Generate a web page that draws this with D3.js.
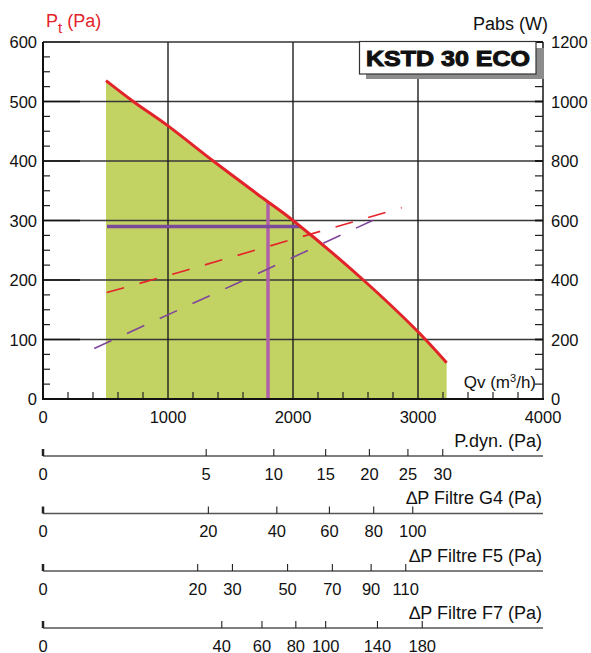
<!DOCTYPE html>
<html><head><meta charset="utf-8">
<script src="https://cdn.jsdelivr.net/npm/d3@7"></script>
<style>
html,body{margin:0;padding:0;background:#fff;}
svg{display:block;font-family:"Liberation Sans",Arial,Helvetica,sans-serif;}
</style></head>
<body>
<svg id="chart" width="591" height="653"></svg>
<script>
// ---- data ----
const qTicks = [0, 1000, 2000, 3000, 4000];
const ptTicks = [0, 100, 200, 300, 400, 500, 600];
const wTicks = [0, 200, 400, 600, 800, 1000, 1200];
// fan curve (Qv m3/h, Pt Pa)
const curveQ  = [504, 722, 1000, 1362, 1763, 2000, 2563, 3000, 3229];
const curvePa = [535, 500, 459, 400, 337, 300, 200, 113, 61];
// absorbed power lines (Qv m3/h, W)
const pabsRedQ = [510, 1141, 2000, 2870];
const pabsRedW = [358, 432, 537, 643];
const pabsPurpleQ = [410, 1536, 2656];
const pabsPurpleW = [170, 386, 604];
// operating point
const opQ = [1800], opPa = [290], opQEnd = [2060], opPaTop = [332];
// auxiliary scales: tick values and airflow at the last tick
const pdynTicks = [0, 5, 10, 15, 20, 25, 30];          const pdynMaxQ = 3198;
const g4Ticks   = [0, 20, 40, 60, 80, 100];            const g4MaxQ   = 2958;
const f5Ticks   = [0, 20, 30, 50, 70, 90, 110];        const f5MaxQ   = 2902;
const f7Ticks   = [0, 40, 60, 80, 100, 140, 180];      const f7MaxQ   = 3034;
const auxTitles = ["P.dyn. (Pa)", "\u2206P Filtre G4 (Pa)", "\u2206P Filtre F5 (Pa)", "\u2206P Filtre F7 (Pa)"];

// ---- layout ----
const svg = d3.select("#chart");
const L = 43, R = 543, T = 42, B = 399;
const x = d3.scaleLinear().domain([0, 4000]).range([L, R]);
const y = d3.scaleLinear().domain([0, 600]).range([B, T]);
const yR = d3.scaleLinear().domain([0, 1200]).range([B, T]);
const smooth = d3.curveCatmullRom.alpha(0.5);

// green area under the curve
const pts = curveQ.map((q, i) => [q, curvePa[i]]);
svg.append("path").datum(pts)
  .attr("fill", "#c2d263")
  .attr("d", d3.area().x(d => x(d[0])).y0(y(0)).y1(d => y(d[1])).curve(smooth));

// grid
svg.append("g").selectAll("line").data(ptTicks.slice(1, -1)).join("line")
  .attr("x1", L).attr("x2", R).attr("y1", d => y(d)).attr("y2", d => y(d))
  .attr("stroke", "#363636").attr("stroke-width", 1.6);
svg.append("g").selectAll("line").data(qTicks.slice(1, -1)).join("line")
  .attr("x1", d => x(d)).attr("x2", d => x(d)).attr("y1", T).attr("y2", B)
  .attr("stroke", "#1e1e1e").attr("stroke-width", 1.4);
// slightly darker major tick stubs on the left
svg.append("g").selectAll("line").data(ptTicks).join("line")
  .attr("x1", L).attr("x2", L + 37).attr("y1", d => y(d)).attr("y2", d => y(d))
  .attr("stroke", "#111").attr("stroke-width", 1.7);

// frame
svg.append("line").attr("x1", L).attr("x2", R).attr("y1", T).attr("y2", T).attr("stroke", "#333").attr("stroke-width", 1.4);
svg.append("line").attr("x1", R).attr("x2", R).attr("y1", T).attr("y2", B).attr("stroke", "#222").attr("stroke-width", 1.6);

// minor ticks
const leftMinor = d3.range(0, 601, 25).filter(v => v % 100 !== 0);
svg.append("g").selectAll("line").data(leftMinor).join("line")
  .attr("x1", L).attr("x2", L + 7).attr("y1", d => y(d)).attr("y2", d => y(d))
  .attr("stroke", "#222").attr("stroke-width", 1.2);
const rightMinor = d3.range(0, 1201, 50).filter(v => v % 200 !== 0);
svg.append("g").selectAll("line").data(rightMinor).join("line")
  .attr("x1", R - 8).attr("x2", R).attr("y1", d => yR(d)).attr("y2", d => yR(d))
  .attr("stroke", "#222").attr("stroke-width", 1.2);
svg.append("g").selectAll("line").data(wTicks).join("line")
  .attr("x1", R - 8).attr("x2", R).attr("y1", d => yR(d)).attr("y2", d => yR(d))
  .attr("stroke", "#111").attr("stroke-width", 1.8);
const botMinor = d3.range(0, 4001, 200).filter(v => v % 1000 !== 0);
svg.append("g").selectAll("line").data(botMinor).join("line")
  .attr("x1", d => x(d)).attr("x2", d => x(d)).attr("y1", B).attr("y2", B - 7)
  .attr("stroke", "#222").attr("stroke-width", 1.2);

// operating point lines
svg.append("line").attr("x1", x(opQ[0])).attr("x2", x(opQ[0])).attr("y1", y(0)).attr("y2", y(opPaTop[0]))
  .attr("stroke", "#b060a8").attr("stroke-width", 3.5);
svg.append("line").attr("x1", x(curveQ[0]) + 1).attr("x2", x(opQEnd[0])).attr("y1", y(opPa[0])).attr("y2", y(opPa[0]))
  .attr("stroke", "#7b4a9a").attr("stroke-width", 3.5);

// power lines
svg.append("path").datum(pabsRedQ.map((q, i) => [q, pabsRedW[i]]))
  .attr("fill", "none").attr("stroke", "#e4242b").attr("stroke-width", 1.6).attr("stroke-dasharray", "18,16")
  .attr("d", d3.line().x(d => x(d[0])).y(d => yR(d[1])));
svg.append("path").datum(pabsPurpleQ.map((q, i) => [q, pabsPurpleW[i]]))
  .attr("fill", "none").attr("stroke", "#7f469b").attr("stroke-width", 1.6).attr("stroke-dasharray", "19,17")
  .attr("d", d3.line().x(d => x(d[0])).y(d => yR(d[1])));

// fan curve
svg.append("path").datum(pts)
  .attr("fill", "none").attr("stroke", "#e3232a").attr("stroke-width", 3)
  .attr("d", d3.line().x(d => x(d[0])).y(d => y(d[1])).curve(smooth));

// axes lines
svg.append("line").attr("x1", L).attr("x2", L).attr("y1", T).attr("y2", B).attr("stroke", "#111").attr("stroke-width", 2);
svg.append("line").attr("x1", L - 1).attr("x2", R + 1).attr("y1", B).attr("y2", B).attr("stroke", "#111").attr("stroke-width", 2);

// tick labels
const tickFont = 16.5;
svg.append("g").selectAll("text").data(ptTicks).join("text")
  .attr("x", 37).attr("y", d => y(d) + 6).attr("text-anchor", "end")
  .attr("font-size", tickFont).attr("fill", "#111").text(d => d);
svg.append("g").selectAll("text").data(wTicks).join("text")
  .attr("x", 551).attr("y", d => yR(d) + 6).attr("text-anchor", "start")
  .attr("font-size", tickFont).attr("fill", "#111").text(d => d);
svg.append("g").selectAll("text").data(qTicks).join("text")
  .attr("x", d => x(d)).attr("y", 422.5).attr("text-anchor", "middle")
  .attr("font-size", tickFont).attr("fill", "#111").text(d => d);

// axis titles
const pt = svg.append("text").attr("x", 46).attr("y", 27).attr("fill", "#e3232a").attr("font-size", 18);
pt.append("tspan").text("P");
pt.append("tspan").attr("font-size", 15).attr("dy", 6).text("t");
pt.append("tspan").attr("dy", -6).text(" (Pa)");
svg.append("text").attr("x", 548).attr("y", 30).attr("text-anchor", "end").attr("font-size", 18).attr("fill", "#111").text("Pabs (W)");
const qv = svg.append("text").attr("x", 536).attr("y", 388).attr("text-anchor", "end").attr("font-size", 17).attr("fill", "#111");
qv.append("tspan").text("Qv (m");
qv.append("tspan").attr("font-size", 11).attr("dy", -6).text("3");
qv.append("tspan").attr("dy", 6).text("/h)");

// title box
svg.append("rect").attr("x", 366).attr("y", 48).attr("width", 178).attr("height", 31).attr("fill", "#8c8c8c");
svg.append("rect").attr("x", 359.5).attr("y", 41.5).attr("width", 176.5).attr("height", 32.5)
  .attr("fill", "#fff").attr("stroke", "#333").attr("stroke-width", 1.2);
svg.append("text").attr("x", 366).attr("y", 65.5).attr("font-size", 21.5).attr("font-weight", "bold")
  .attr("fill", "#111").attr("stroke", "#111").attr("stroke-width", 1)
  .attr("textLength", 164).attr("lengthAdjust", "spacingAndGlyphs").text("KSTD 30 ECO");

// auxiliary scales
const aux = [
  {ticks: pdynTicks, maxQ: pdynMaxQ},
  {ticks: g4Ticks, maxQ: g4MaxQ},
  {ticks: f5Ticks, maxQ: f5MaxQ},
  {ticks: f7Ticks, maxQ: f7MaxQ}
];
const auxY = [456, 513.5, 571, 628];
aux.forEach((a, i) => {
  const s = d3.scaleSqrt().domain([0, d3.max(a.ticks)]).range([x(0), x(a.maxQ)]);
  const yy = auxY[i];
  const g = svg.append("g");
  g.append("line").attr("x1", L).attr("x2", R).attr("y1", yy).attr("y2", yy).attr("stroke", "#555").attr("stroke-width", 1.3);
  g.selectAll("line.t").data(a.ticks).join("line").attr("class", "t")
    .attr("x1", d => s(d)).attr("x2", d => s(d)).attr("y1", yy).attr("y2", yy - 7)
    .attr("stroke", "#222").attr("stroke-width", d => d === 0 ? 2.5 : 1.1);
  g.selectAll("text.l").data(a.ticks).join("text").attr("class", "l")
    .attr("x", d => s(d)).attr("y", yy + 23.5).attr("text-anchor", "middle")
    .attr("font-size", tickFont).attr("fill", "#111").text(d => d);
  g.append("text").attr("x", 542).attr("y", yy - 9.5).attr("text-anchor", "end")
    .attr("font-size", 18).attr("fill", "#111").text(auxTitles[i]);
});
</script>
</body></html>
